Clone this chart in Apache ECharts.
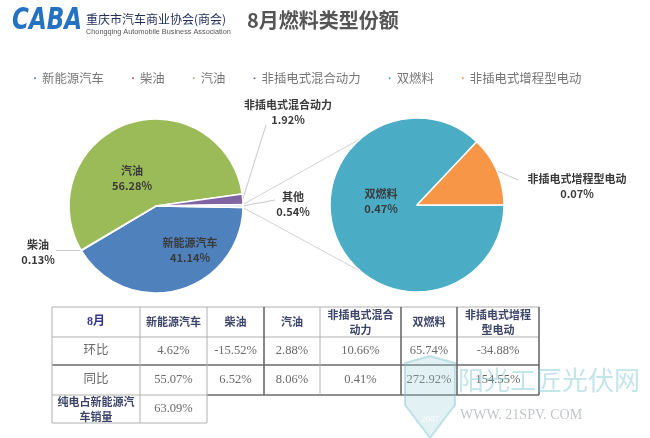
<!DOCTYPE html>
<html><head><meta charset="utf-8">
<script src="https://cdn.jsdelivr.net/npm/echarts@6/dist/echarts.min.js"></script>
<style>html,body{margin:0;padding:0;background:#fff}#c{width:650px;height:438px}</style>
</head><body><div id="c"></div>
<script>
// ---------- data ----------
const titleText = '8月燃料类型份额';
const legendNames = ['新能源汽车','柴油','汽油','非插电式混合动力','双燃料','非插电式增程型电动'];
const mainPieNames = ['新能源汽车','柴油','汽油','非插电式混合动力','其他'];
const mainPieValues = [41.14, 0.13, 56.28, 1.92, 0.54];
const subPieNames = ['双燃料','非插电式增程型电动'];
const subPieValues = [0.47, 0.07];
const tableHeader = ['8月','新能源汽车','柴油','汽油','非插电式混合\n动力','双燃料','非插电式增程\n型电动'];
const momRow = ['环比','4.62%','-15.52%','2.88%','10.66%','65.74%','-34.88%'];
const yoyRow = ['同比','55.07%','6.52%','8.06%','0.41%','272.92%','154.55%'];
const bevShareRow = ['纯电占新能源汽\n车销量','63.09%'];

// ---------- style / layout ----------
const colorMap = {'新能源汽车':'#4F81BD','柴油':'#C0504D','汽油':'#9BBB59','非插电式混合动力':'#8064A2','其他':'#DCE6F2','双燃料':'#4BACC6','非插电式增程型电动':'#F79646'};
const CJK = "'Noto Sans CJK SC', 'Noto Sans', sans-serif";
const LP = {cx:156, cy:206, r:87};
const RP = {cx:417, cy:205, r:87};
// label anchors relative to pie centres (lx,ly: label centre; ex,ey: leader end)
const mainOffs = [
  {lx:34, ly:44, inside:true},
  {lx:-118, ly:46, ex:-100, ey:null},
  {lx:-24, ly:-28, inside:true},
  {lx:132, ly:-94, ex:110, ey:-81},
  {lx:137, ly:-2, ex:119, ey:-6}
];
const subOffs = [
  {lx:-36, ly:-4, inside:true},
  {lx:160, ly:-19, ex:101, ey:-25}
];

function makeLayout(P, offs){
  return function(params){
    const o = offs[params.dataIndex];
    const res = {x:P.cx+o.lx, y:P.cy+o.ly, align:'center', verticalAlign:'middle'};
    if (!o.inside && params.labelLinePoints) {
      const p0 = params.labelLinePoints[0];
      const ey = (o.ey === null) ? p0[1] : P.cy+o.ey;
      const e = [P.cx+o.ex, ey];
      res.labelLinePoints = [[p0[0],p0[1]], e, e];
    }
    return res;
  };
}
function pieData(names, values, offs){
  return names.map((n,i)=>({
    name:n, value:values[i], itemStyle:{color:colorMap[n]},
    label:{position: offs[i].inside ? 'inside' : 'outside'},
    labelLine:{show: !offs[i].inside}
  }));
}
const labelStyle = {fontSize:11, fontWeight:'bold', color:'#3a3a3a', lineHeight:15, fontFamily:CJK,
  formatter: p => p.name + '\n' + p.value.toFixed(2) + '%'};

const mainTotal = mainPieValues.reduce((a,b)=>a+b,0);
const otherHalf = mainPieValues[mainPieValues.length-1]/mainTotal*360/2;
const mainStart = -otherHalf;

// connector lines from the "其他" slice to the secondary pie
const rad = Math.PI/180;
const connAngle = 130;
const conn = [1,-1].map(s => ({
  type:'line', silent:true, z:1,
  shape:{x1:LP.cx+LP.r*Math.cos(s*otherHalf*rad), y1:LP.cy-LP.r*Math.sin(s*otherHalf*rad),
         x2:RP.cx+RP.r*Math.cos(connAngle*rad), y2:RP.cy-s*RP.r*Math.sin(connAngle*rad)},
  style:{stroke:'#d2d2d2', lineWidth:1}
}));

// table
const cols = [52,140,207,264,320,401,457,539];
const rows = [307,337,365,395,423];
const tbl = [];
function hline(x1,x2,y,dark){ tbl.push({type:'line',silent:true,shape:{x1,y1:y,x2,y2:y},style:{stroke:dark?'#6a6a6a':'#b0b0b0',lineWidth:dark?1.6:1}}); }
function vline(x,y1,y2,dark){ tbl.push({type:'line',silent:true,shape:{x1:x,y1,x2:x,y2},style:{stroke:dark?'#6a6a6a':'#b0b0b0',lineWidth:dark?1.6:1}}); }
hline(cols[0], cols[7], rows[0], false);
hline(cols[0], cols[7], rows[1], false);
hline(cols[0], cols[7], rows[2], true);
hline(cols[0], cols[2], rows[3], false);
hline(cols[2], cols[7], rows[3], true);
hline(cols[0], cols[2], rows[4], false);
vline(cols[0], rows[0], rows[4], false);
vline(cols[1], rows[0], rows[4], false);
vline(cols[2], rows[0], rows[4], false);
vline(cols[3], rows[0], rows[3], true);
vline(cols[4], rows[0], rows[3], false);
vline(cols[5], rows[0], rows[3], true);
vline(cols[6], rows[0], rows[3], true);
vline(cols[7], rows[0], rows[3], true);
function cellText(txt, ci, ri, kind){
  const x = (cols[ci]+cols[ci+1])/2, y = (rows[ri]+rows[ri+1])/2;
  let st;
  if (kind==='head') st = {fontSize:11, fontWeight:'bold', fill:'#3c4569', fontFamily:CJK, lineHeight:15};
  else if (kind==='month') st = {fontSize:12, fontWeight:'bold', fill:'#35358c', fontFamily:"'Liberation Serif', "+CJK};
  else st = {fontSize:12.5, fill:'#6a6a6a', fontFamily:"'Liberation Serif', "+CJK};
  tbl.push({type:'text', silent:true, style:Object.assign({text:txt, x, y, align:'center', verticalAlign:'middle'}, st)});
}
tableHeader.forEach((t,i)=>cellText(t,i,0, i===0?'month':'head'));
momRow.forEach((t,i)=>cellText(t,i,1,'data'));
yoyRow.forEach((t,i)=>cellText(t,i,2,'data'));
bevShareRow.forEach((t,i)=>cellText(t,i,3, i===0?'head':'data'));

const chart = echarts.init(document.getElementById('c'), null, {renderer:'canvas'});
chart.setOption({
  animation:false,
  backgroundColor:'#fff',
  legend:{
    data: legendNames, left:27, top:67, icon:'circle', itemWidth:4, itemHeight:4, itemGap:26,
    selectedMode:false, textStyle:{fontSize:12.4, color:'#777', fontFamily:CJK}
  },
  series:[
    {
      type:'pie', name:'main', center:[LP.cx, LP.cy], radius:LP.r, startAngle:mainStart, clockwise:true,
      avoidLabelOverlap:false, silent:true, z:2,
      itemStyle:{borderColor:'#fff', borderWidth:1.5},
      label:labelStyle,
      labelLine:{length:10, length2:10, lineStyle:{color:'#c8c8c8', width:1}},
      labelLayout: makeLayout(LP, mainOffs),
      data: pieData(mainPieNames, mainPieValues, mainOffs)
    },
    {
      type:'pie', name:'sub', center:[RP.cx, RP.cy], radius:RP.r, startAngle:0, clockwise:true,
      avoidLabelOverlap:false, silent:true, z:2,
      itemStyle:{borderColor:'#fff', borderWidth:1.5},
      label:labelStyle,
      labelLine:{length:10, length2:10, lineStyle:{color:'#c8c8c8', width:1}},
      labelLayout: makeLayout(RP, subOffs),
      data: pieData(subPieNames, subPieValues, subOffs)
    }
  ],
  graphic:[
    {type:'text', silent:true, x:12, y:6, scaleY:1.3,
     style:{text:'CABA', fontSize:23, fontWeight:'bold', fontStyle:'italic', fontFamily:"'DejaVu Sans', sans-serif", fill:'#2572c2'}},
    {type:'text', silent:true, style:{text:'重庆市汽车商业协会(商会)', x:86, y:19, verticalAlign:'middle', fontSize:12, fill:'#1f2d57', fontFamily:CJK}},
    {type:'text', silent:true, style:{text:'Chongqing Automobile Business Association', x:86, y:32, verticalAlign:'middle', fontSize:7.3, fill:'#555', fontFamily:"'Liberation Sans', sans-serif"}},
    {type:'text', silent:true, style:{text:titleText, x:247, y:20, verticalAlign:'middle', fontSize:20, fontWeight:'bold', fill:'#555', fontFamily:CJK}},
    ...conn,
    ...tbl,
    {type:'polygon', silent:true, z:50, shape:{points:[[405,363],[430,356],[455,363],[455,405],[430,438],[405,405]]},
     style:{fill:'rgba(150,205,212,0.28)', stroke:'rgba(130,195,205,0.45)', lineWidth:2}},
    {type:'text', silent:true, z:51, style:{text:'2007', x:430, y:420, align:'center', verticalAlign:'middle', fontSize:9, fill:'rgba(255,255,255,0.9)', fontFamily:"'Liberation Serif', serif"}},
    {type:'text', silent:true, z:51, style:{text:'阳光工匠光伏网', x:458, y:380, verticalAlign:'middle', fontSize:26, fill:'rgba(120,195,210,0.45)', fontFamily:CJK}},
    {type:'text', silent:true, z:51, style:{text:'WWW. 21SPV. COM', x:460, y:415, verticalAlign:'middle', fontSize:14, fill:'rgba(140,150,155,0.55)', fontFamily:"'Liberation Serif', serif"}}
  ]
});
</script>
</body></html>
